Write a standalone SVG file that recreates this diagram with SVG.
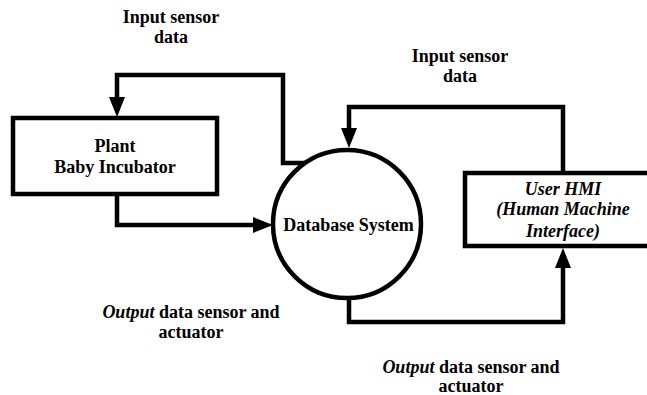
<svg xmlns="http://www.w3.org/2000/svg" width="647" height="395" viewBox="0 0 647 395">
<style>
  .box{fill:#fff;stroke:#000;stroke-width:4.5}
  .conn{fill:none;stroke:#000;stroke-width:4.5;stroke-linejoin:miter;marker-end:url(#arr)}
  text{font-family:"Liberation Serif","Times New Roman",serif;font-weight:bold;font-size:18px;fill:#000;text-anchor:middle}
  .it{font-style:italic}
</style>
<defs>
  <marker id="arr" markerUnits="userSpaceOnUse" markerWidth="20" markerHeight="16" refX="0" refY="8" orient="auto" overflow="visible">
    <path d="M0,0 L20,8 L0,16 Z" fill="#000"/>
  </marker>
</defs>
<rect width="647" height="395" fill="#fff"/>
<g id="connectors">
  <path class="conn" d="M307,163 L283,163 L283,75 L117,75 L117,97"/>
  <path class="conn" d="M117,194 L117,225 L253,225"/>
  <path class="conn" d="M563,173 L563,107 L349,107 L349,128"/>
  <path class="conn" d="M349,296 L349,322 L563,322 L563,268"/>
</g>
<g id="plant">
  <rect class="box" x="13" y="118" width="204" height="76"/>
  <text x="115" y="152">Plant</text>
  <text x="115" y="173">Baby Incubator</text>
</g>
<g id="database">
  <circle class="box" cx="347" cy="224" r="74"/>
  <text x="348.5" y="231">Database System</text>
</g>
<g id="hmi">
  <rect class="box" x="465" y="173" width="190" height="73"/>
  <text class="it" x="563" y="195">User HMI</text>
  <text class="it" x="563" y="215">(Human Machine</text>
  <text class="it" x="563" y="237">Interface)</text>
</g>
<g id="labels">
  <text x="171" y="23">Input sensor</text>
  <text x="171" y="43">data</text>
  <text x="460" y="62">Input sensor</text>
  <text x="460" y="82">data</text>
  <text x="191" y="318"><tspan class="it">Output</tspan> data sensor and</text>
  <text x="191" y="338">actuator</text>
  <text x="471" y="373"><tspan class="it">Output</tspan> data sensor and</text>
  <text x="471" y="392">actuator</text>
</g>
</svg>
